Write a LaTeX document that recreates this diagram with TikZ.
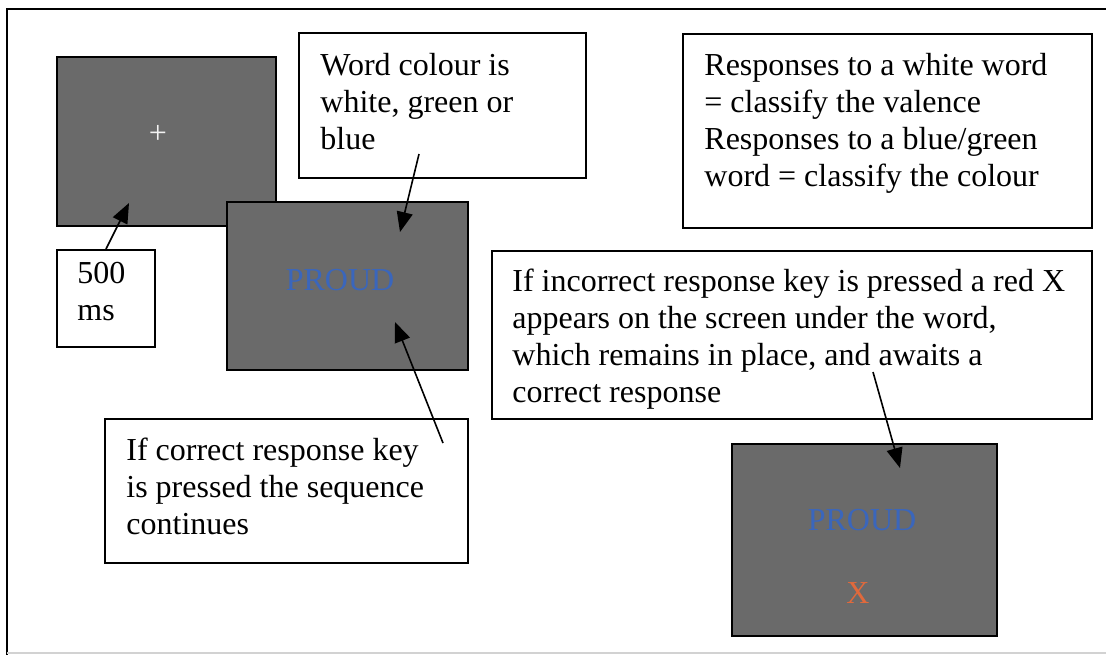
\documentclass[tikz,border=0pt]{standalone}
\usepackage{fontspec}
\setmainfont{Liberation Serif}
\usetikzlibrary{arrows.meta,fit}
\definecolor{scr}{HTML}{6A6A6A}
\definecolor{wblue}{HTML}{3A66BC}
\definecolor{xred}{HTML}{E0693C}
\tikzset{
  screen/.style={draw=black,line width=1.1pt,fill=scr,inner sep=0pt},
  note/.style={draw=black,line width=1pt,fill=white,inner sep=0pt},
  txt/.style={anchor=north west,inner sep=0pt,align=left,font=\fontsize{16}{18.5}\selectfont},
  word/.style={inner sep=0pt,font=\fontsize{16}{18.5}\selectfont},
  ar/.style={-{Triangle[length=10pt,width=8pt]},line width=0.8pt},
}

\begin{document}
\begin{tikzpicture}[x=0.5pt,y=-0.5pt]
\useasboundingbox (0,0) rectangle (1106,655);
% ---- frame ----
\draw[line width=1pt] (1106,9) -- (7,9) -- (7,655);
\draw[gray!35,line width=0.6pt] (7,653) -- (1106,653);

% ---- fixation screen ----
\node[screen,fit={(57,57) (276,226)}] (fix) {};
\node[word,text=white!90!gray] (cross) at (158,134) {+};
\node[note,fit={(57,250) (155,347)}] (durbox) {};
\node[txt] (durtext) at (77,262) {500\\ms};
\coordinate (fixtip) at (129,203);
\draw[ar] (durbox.north) -- (fixtip);

% ---- word screen ----
\node[note,fit={(299,33) (586,178)}] (colourbox) {};
\node[txt] (colourtext) at (320,53) {Word colour is\\white, green or\\blue};
\node[screen,fit={(227,202) (468,370)}] (word1) {};
\node[word,text=wblue] (w1) at (340,280) {PROUD};
\coordinate (colourtail) at (419,154);
\coordinate (colourtip) at (400,232);
\draw[ar] (colourtail) -- (colourtip);

\node[note,fit={(105,419) (468,563)}] (correctbox) {};
\node[txt] (correcttext) at (126,438) {If correct response key\\is pressed the sequence\\continues};
\coordinate (correcttail) at (443,443);
\coordinate (correcttip) at (395,322);
\draw[ar] (correcttail) -- (correcttip);

% ---- rule + error screen ----
\node[note,fit={(683,34) (1092,228)}] (rulebox) {};
\node[txt] (ruletext) at (704,53) {Responses to a white word\\= classify the valence\\Responses to a blue/green\\word = classify the colour};

\node[note,fit={(492,251) (1092,419)}] (wrongbox) {};
\node[txt] (wrongtext) at (512,269) {If incorrect response key is pressed a red X\\appears on the screen under the word,\\which remains in place, and awaits a\\correct response};
\node[screen,fit={(732,444) (997,636)}] (word2) {};
\node[word,text=wblue] (w2) at (862,520) {PROUD};
\node[word,text=xred] (cross2) at (858,593) {X};
\coordinate (wrongtail) at (873,372);
\coordinate (wrongtip) at (900,468);
\draw[ar] (wrongtail) -- (wrongtip);
\end{tikzpicture}
\end{document}
